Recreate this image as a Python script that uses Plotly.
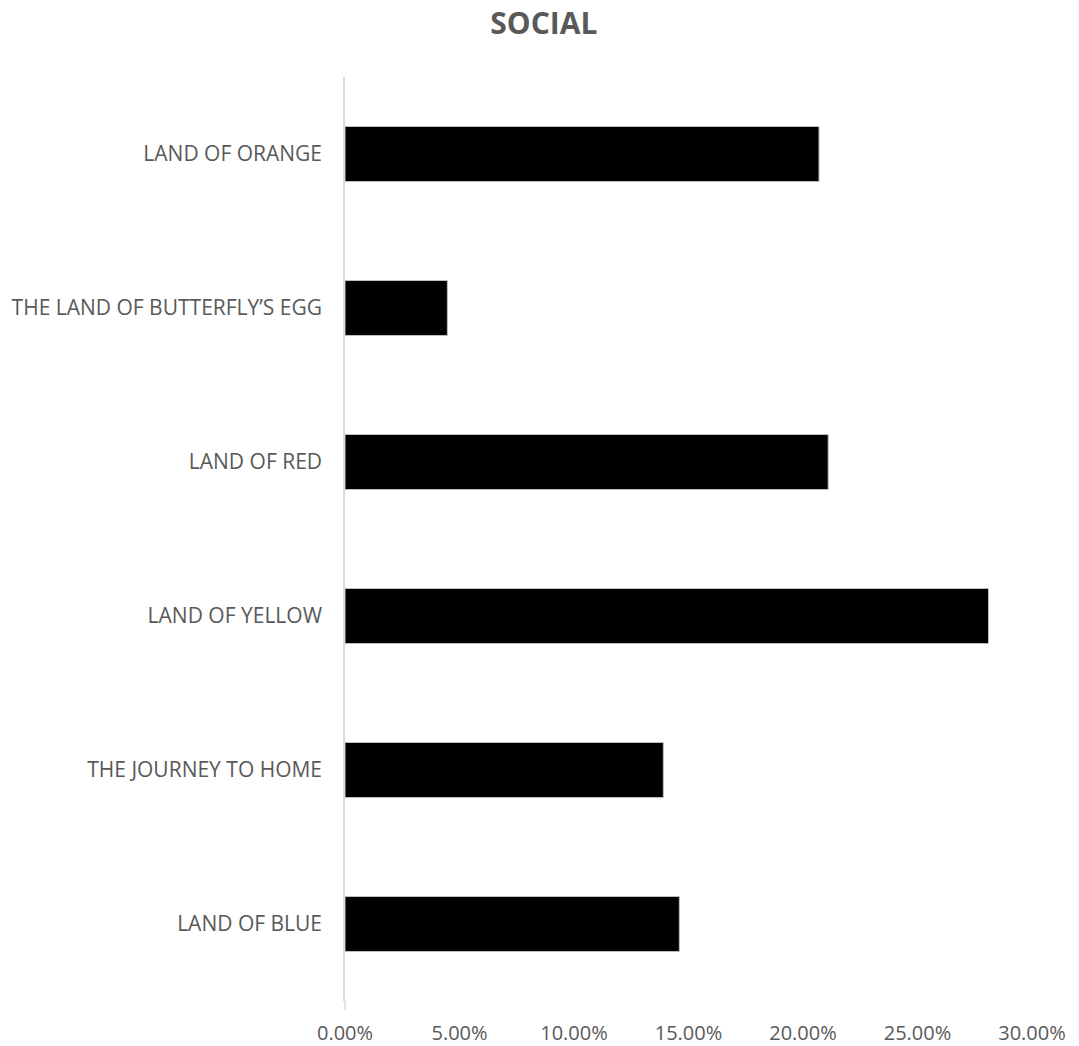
import plotly.graph_objects as go

categories = ["LAND OF ORANGE", "THE LAND OF BUTTERFLY\u2019S EGG", "LAND OF RED",
              "LAND OF YELLOW", "THE JOURNEY TO HOME", "LAND OF BLUE"]
values = [0.207, 0.0447, 0.211, 0.281, 0.139, 0.146]
tick_vals = [0, 0.05, 0.10, 0.15, 0.20, 0.25, 0.30]
tick_text = ["0.00%", "5.00%", "10.00%", "15.00%", "20.00%", "25.00%", "30.00%"]

FONT = "Open Sans"
GREY = "#595959"
AXIS = "#d9d9d9"

fig = go.Figure(go.Bar(
    x=values, y=categories, orientation="h",
    marker=dict(color="#000000", line=dict(color="#bfbfbf", width=1)),
    hoverinfo="x+y",
))

fig.update_layout(
    width=1079, height=1046,
    margin=dict(l=345, r=47, t=77, b=45),
    paper_bgcolor="white", plot_bgcolor="white",
    bargap=0.643,
    showlegend=False,
    title=dict(text="<b>SOCIAL</b>", x=0.504, xanchor="center", y=0.978, yanchor="middle",
               font=dict(family=FONT, size=30, color=GREY)),
    font=dict(family=FONT, color=GREY),
    shapes=[dict(type="line", xref="paper", yref="paper", x0=0, x1=0, y0=-0.0098, y1=0,
                 line=dict(color=AXIS, width=1.5))],
)
fig.update_xaxes(
    range=[0, 0.30], tickvals=tick_vals, ticktext=tick_text,
    showgrid=False, zeroline=False, showline=False, automargin=False,
    ticks="outside", ticklen=14, tickcolor="rgba(0,0,0,0)",
    tickfont=dict(family=FONT, size=20, color=GREY),
)
fig.update_yaxes(
    autorange="reversed", showgrid=False, zeroline=False, automargin=False,
    showline=True, linecolor=AXIS, linewidth=1.5,
    ticks="outside", ticklen=17, tickcolor="rgba(0,0,0,0)",
    tickfont=dict(family=FONT, size=21, color=GREY),
)

fig.write_html(
    "out.html",
    config={"displayModeBar": False},
    post_script="document.body.style.margin='0';document.body.style.padding='0';"
                "document.body.style.overflow='hidden';"
                "document.documentElement.style.overflow='hidden';",
)
